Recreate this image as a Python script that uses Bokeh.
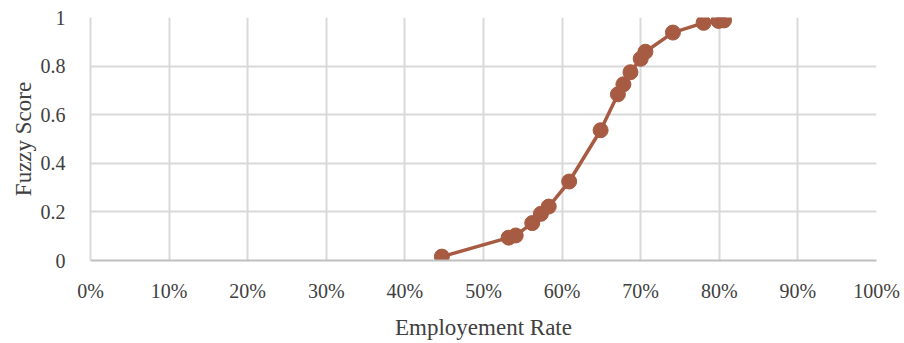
from bokeh.plotting import figure
from bokeh.models import Range1d, NumeralTickFormatter, FixedTicker
from bokeh.embed import file_html
from bokeh.resources import INLINE

# Employment rate (fraction) vs. fuzzy membership score
employment_rate = [0.447, 0.532, 0.541, 0.562, 0.573, 0.583, 0.609, 0.649,
                   0.671, 0.678, 0.687, 0.700, 0.706, 0.741, 0.780, 0.799, 0.806]
fuzzy_score = [0.016, 0.094, 0.103, 0.154, 0.192, 0.222, 0.325, 0.536,
               0.684, 0.725, 0.775, 0.830, 0.859, 0.938, 0.978, 0.986, 0.988]

x_ticks = [i / 10 for i in range(11)]
y_ticks = [0, 0.2, 0.4, 0.6, 0.8, 1]

LINE = "#A65B42"
FONT = "Liberation Serif"

p = figure(width=904, height=343, output_backend="svg", toolbar_location=None,
           x_range=Range1d(0, 1), y_range=Range1d(0, 1),
           min_border_left=90, min_border_right=28, min_border_top=17,
           min_border_bottom=83)
p.outline_line_color = None
p.background_fill_color = "white"
p.border_fill_color = "white"

p.line(employment_rate, fuzzy_score, line_color=LINE, line_width=3.5)
p.scatter(employment_rate, fuzzy_score, size=15, fill_color=LINE, line_color=LINE)

p.xaxis.ticker = FixedTicker(ticks=x_ticks)
p.yaxis.ticker = FixedTicker(ticks=y_ticks)
p.xaxis.formatter = NumeralTickFormatter(format="0%")
p.yaxis.formatter = NumeralTickFormatter(format="0.[0]")

for ax in (p.xaxis, p.yaxis):
    ax.major_tick_line_color = None
    ax.minor_tick_line_color = None
    ax.major_label_text_font = FONT
    ax.major_label_text_font_size = "20px"
    ax.major_label_text_color = "#404040"
    ax.axis_label_text_font = FONT
    ax.axis_label_text_font_style = "normal"
    ax.axis_label_text_font_size = "23px"
    ax.axis_label_text_color = "#404040"

p.xaxis.axis_line_color = "#BFBFBF"
p.yaxis.axis_line_color = "#D9D9D9"
p.xaxis.axis_line_width = 2
p.yaxis.axis_line_width = 2
p.xaxis.major_label_standoff = 13
p.yaxis.major_label_standoff = 19
p.xaxis.axis_label = "Employement Rate"
p.yaxis.axis_label = "Fuzzy Score"
p.xaxis.axis_label_standoff = 10
p.yaxis.axis_label_standoff = 2

p.grid.grid_line_color = "#D9D9D9"
p.grid.grid_line_width = 2

open("out.html", "w").write(file_html(p, INLINE))
